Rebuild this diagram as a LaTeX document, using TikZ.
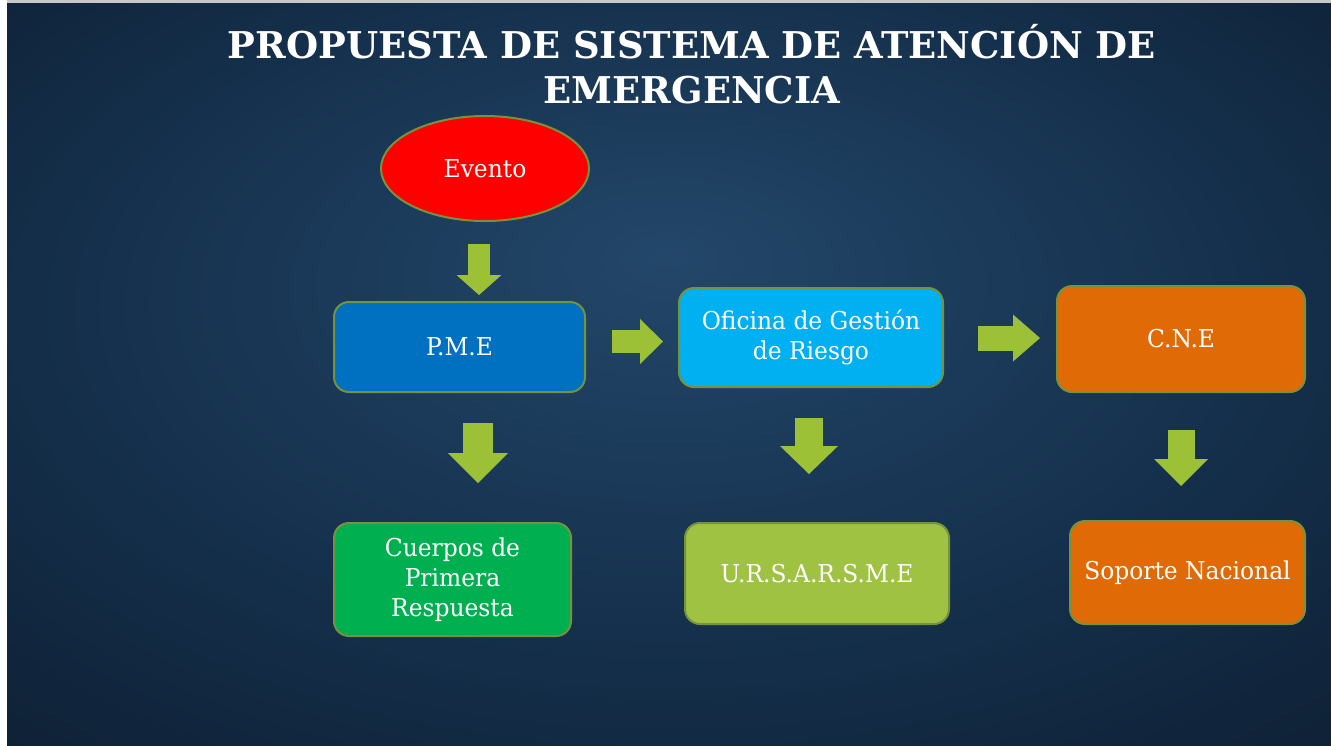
\documentclass[tikz,border=0pt]{standalone}
\usepackage{fontspec}
\setmainfont{DejaVu Serif}
\newfontfamily\nodefont[FakeStretch=0.95]{DejaVu Serif}
\newfontfamily\titlefont{DejaVu Serif}
\usetikzlibrary{shapes.geometric,arrows.meta}

\definecolor{bgin}{HTML}{23476A}
\definecolor{bgmid}{HTML}{15304C}
\definecolor{bgout}{HTML}{091423}
\definecolor{topline}{HTML}{C8C8C8}
\definecolor{edge}{HTML}{76923C}
\definecolor{arrowgreen}{HTML}{9CC136}
\definecolor{eventred}{HTML}{FF0000}
\definecolor{pmeblue}{HTML}{0070C0}
\definecolor{ofiblue}{HTML}{00B0F0}
\definecolor{cneorange}{HTML}{E06A06}
\definecolor{crpgreen}{HTML}{00B050}
\definecolor{urslime}{HTML}{A0C243}

\pgfdeclareradialshading{bgshade}{\pgfpoint{0bp}{8bp}}{color(0bp)=(bgin); color(22bp)=(bgmid); color(50bp)=(bgout)}

\tikzset{
  box/.style={draw=edge, line width=0.4mm, rounded corners=3mm, text=white,
    font=\nodefont\fontsize{14}{17}\selectfont, align=center, inner sep=0pt},
  blk/.style n args={3}{draw=arrowgreen, line width=#1,
    -{Triangle[length=#2, width=#3, line width=0pt]}}
}

\begin{document}
\begin{tikzpicture}[x=0.2mm, y=-0.2mm]
  \useasboundingbox (0,0) rectangle (1331,745);
  % slide background
  \fill[white] (0,0) rectangle (1331,745);
  \fill[topline] (7,0) rectangle (1331,3);
  \shade[shading=bgshade] (7,3) rectangle (1331,745);

  % title
  \node[anchor=base, text=white, font=\titlefont\bfseries\fontsize{21}{25}\selectfont] (title1) at (692,58) {PROPUESTA DE SISTEMA DE ATENCIÓN DE};
  \node[anchor=base, text=white, font=\titlefont\bfseries\fontsize{21}{25}\selectfont] (title2) at (692,103) {EMERGENCIA};

  % boxes
  \node[ellipse, draw=edge, line width=0.4mm, fill=eventred, text=white, font=\nodefont\fontsize{14}{17}\selectfont,
        minimum width=41.6mm, minimum height=21mm, inner sep=0pt] (evento) at (485,168.5) {Evento};
  \node[box, fill=pmeblue, minimum width=50.2mm, minimum height=18mm] (pme) at (459.5,347) {P.M.E};
  \node[box, fill=ofiblue, minimum width=52.8mm, minimum height=19.8mm] (ofi) at (811,337.5) {Oficina de Gestión\\de Riesgo};
  \node[box, fill=cneorange, minimum width=49.6mm, minimum height=21.2mm] (cne) at (1181,339) {C.N.E};
  \node[box, fill=crpgreen, minimum width=47.4mm, minimum height=22.6mm] (cuerpos) at (452.5,579.5) {Cuerpos de\\Primera\\Respuesta};
  \node[box, fill=urslime, minimum width=52.8mm, minimum height=20.2mm] (ursa) at (817,573.5) {U.R.S.A.R.S.M.E};
  \node[box, fill=cneorange, minimum width=47mm, minimum height=20.6mm] (soporte) at (1187.5,572.5) {Soporte Nacional};

  % block arrows
  \coordinate (a1s) at (479,244);  \coordinate (a1e) at (479,295);
  \coordinate (a2s) at (612,341.5); \coordinate (a2e) at (663,341.5);
  \coordinate (a3s) at (978,338);  \coordinate (a3e) at (1040,338);
  \coordinate (a4s) at (478,423);  \coordinate (a4e) at (478,483);
  \coordinate (a5s) at (809,418);  \coordinate (a5e) at (809,474);
  \coordinate (a6s) at (1181,430); \coordinate (a6e) at (1181,486);

  \draw[blk={4.4mm}{4mm}{9mm}] (a1s) -- (a1e);
  \draw[blk={4.6mm}{4.6mm}{9mm}] (a2s) -- (a2e);
  \draw[blk={5mm}{5.4mm}{9.4mm}] (a3s) -- (a3e);
  \draw[blk={6mm}{6mm}{12mm}] (a4s) -- (a4e);
  \draw[blk={5.6mm}{5.6mm}{11.6mm}] (a5s) -- (a5e);
  \draw[blk={5.4mm}{5.4mm}{10.8mm}] (a6s) -- (a6e);
\end{tikzpicture}
\end{document}
